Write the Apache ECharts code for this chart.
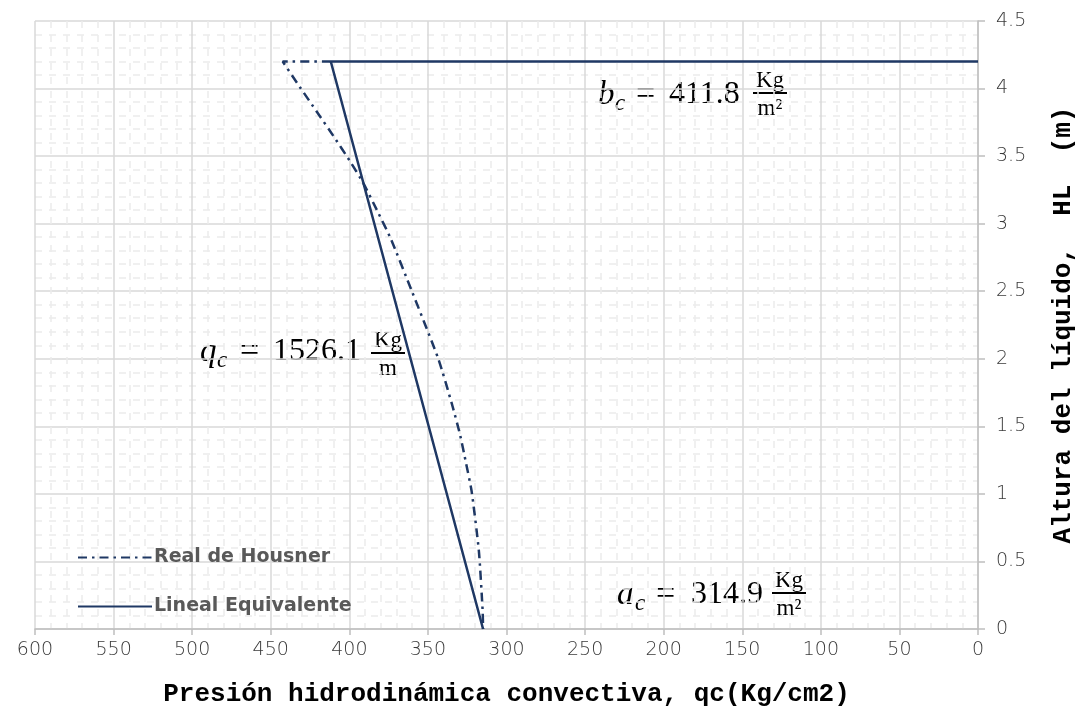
<!DOCTYPE html>
<html>
<head>
<meta charset="utf-8">
<script src="https://cdn.jsdelivr.net/npm/echarts@6/dist/echarts.min.js"></script>
<style>
html,body{margin:0;padding:0;background:#fff}
#main{width:1084px;height:707px}
</style>
</head>
<body>
<div id="main"></div>
<script>
// presion (Kg/m2) vs altura (m)
var housnerX = [411.8, 442.4, 431.4, 420.8, 410.2, 400.0, 391.1, 381.6, 373.7, 360.2, 343.4, 334.6, 329.6, 325.8, 322.2, 317.6, 315.2, 314.9];
var housnerY = [4.2, 4.2, 4.01, 3.83, 3.65, 3.47, 3.30, 3.08, 2.89, 2.5, 2.0, 1.66, 1.44, 1.23, 1.02, 0.58, 0.14, 0];
var linealX = [314.9, 411.8, 0];
var linealY = [0, 4.2, 4.2];

var nombres = ['Real de Housner', 'Lineal Equivalente'];
var xTicks = {min: 0, max: 600, interval: 50};
var yTicks = {min: 0, max: 4.5, interval: 0.5};

function pares(xs, ys) {
    var d = [];
    for (var i = 0; i < xs.length; i++) d.push([xs[i], ys[i]]);
    return d;
}

var chart = echarts.init(document.getElementById('main'));
var serif = 'Liberation Serif';
var azul = '#1f3864';

// ecuacion tipo "b_c = 411.8 Kg/m2"
function ecuacion(o) {
    var els = [];
    els.push({type: 'text', style: {text: o.v, x: o.xv, y: o.y, font: 'italic 33px ' + serif, fill: '#000', textVerticalAlign: 'middle'}});
    els.push({type: 'text', style: {text: 'c', x: o.xs, y: o.y + 9, font: 'italic 23px ' + serif, fill: '#000', textVerticalAlign: 'middle'}});
    els.push({type: 'text', style: {text: '=', x: o.xe, y: o.y, font: '34px ' + serif, fill: '#000', textVerticalAlign: 'middle'}});
    els.push({type: 'text', style: {text: o.num, x: o.xn, y: o.y, font: '32px ' + serif, fill: '#000', textVerticalAlign: 'middle'}});
    els.push({type: 'text', style: {text: 'Kg', x: o.xf, y: o.bar - 12, font: '23px ' + serif, fill: '#000', textAlign: 'center', textVerticalAlign: 'middle'}});
    els.push({type: 'line', shape: {x1: o.xf - 17, y1: o.bar, x2: o.xf + 17, y2: o.bar}, style: {stroke: '#000', lineWidth: 2.2}});
    els.push({type: 'text', style: {text: o.den, x: o.xf, y: o.bar + 16, font: '23px ' + serif, fill: '#000', textAlign: 'center', textVerticalAlign: 'middle'}});
    return els;
}

var graficos = []
    .concat(ecuacion({v: 'b', xv: 598, xs: 615, xe: 636, xn: 669, y: 95, num: '411.8', xf: 770, bar: 93, den: 'm²'}))
    .concat(ecuacion({v: 'q', xv: 200, xs: 217, xe: 240, xn: 273, y: 352, num: '1526.1', xf: 388, bar: 353, den: 'm'}))
    .concat(ecuacion({v: 'a', xv: 617, xs: 635, xe: 656, xn: 691, y: 595, num: '314.9', xf: 789, bar: 593, den: 'm²'}));

var etiqueta = {fontFamily: 'DejaVu Sans', fontWeight: 200, fontSize: 19, color: '#3a3a3a'};

var option = {
    backgroundColor: '#fff',
    animation: false,
    grid: {left: 35, right: 106, top: 21, bottom: 78, outerBoundsMode: 'none', containLabel: false},
    legend: {
        data: nombres,
        orient: 'vertical',
        left: 72,
        top: 543,
        itemWidth: 74,
        itemHeight: 14,
        itemGap: 30,
        itemStyle: {opacity: 0},
        textStyle: {fontFamily: 'DejaVu Sans', fontWeight: 'bold', fontSize: 19, color: '#595959', padding: [0, 0, 0, -3]}
    },
    xAxis: {
        type: 'value',
        inverse: true,
        min: xTicks.min, max: xTicks.max, interval: xTicks.interval,
        name: 'Presión hidrodinámica convectiva, qc(Kg/cm2)',
        nameLocation: 'middle',
        nameGap: 52,
        nameTextStyle: {fontFamily: 'Liberation Mono', fontWeight: 'bold', fontSize: 26, color: '#000'},
        axisLine: {show: true, lineStyle: {color: '#bfbfbf', width: 1.5}},
        axisTick: {show: true, length: 6, lineStyle: {color: '#bfbfbf', width: 1.5}},
        axisLabel: Object.assign({margin: 12}, etiqueta),
        splitLine: {lineStyle: {color: '#d9d9d9', width: 1.5}},
        minorTick: {show: false, splitNumber: 5},
        minorSplitLine: {show: true, lineStyle: {color: '#ebebeb', width: 1.5, type: [7, 7]}}
    },
    yAxis: {
        type: 'value',
        position: 'right',
        min: yTicks.min, max: yTicks.max, interval: yTicks.interval,
        name: 'Altura del líquido,  HL  (m)',
        nameLocation: 'middle',
        nameRotate: 90,
        nameGap: 72,
        nameTextStyle: {fontFamily: 'Liberation Mono', fontWeight: 'bold', fontSize: 26, color: '#000'},
        axisLine: {show: true, lineStyle: {color: '#bfbfbf', width: 1.5}},
        axisTick: {show: true, length: 7, lineStyle: {color: '#bfbfbf', width: 1.5}},
        axisLabel: Object.assign({margin: 18}, etiqueta),
        splitLine: {lineStyle: {color: '#d9d9d9', width: 1.5}},
        minorTick: {show: false, splitNumber: 5},
        minorSplitLine: {show: true, lineStyle: {color: '#ebebeb', width: 1.5, type: [7, 7]}}
    },
    series: [
        {
            name: nombres[0],
            type: 'line',
            data: pares(housnerX, housnerY),
            symbol: 'none',
            smooth: 0.2,
            lineStyle: {color: azul, width: 2.5, type: [9, 5, 2.5, 5]},
            itemStyle: {color: azul},
            z: 3
        },
        {
            name: nombres[1],
            type: 'line',
            data: pares(linealX, linealY),
            symbol: 'none',
            lineStyle: {color: azul, width: 2.5},
            itemStyle: {color: azul},
            z: 4
        }
    ],
    graphic: graficos
};
chart.setOption(option);
</script>
</body>
</html>
